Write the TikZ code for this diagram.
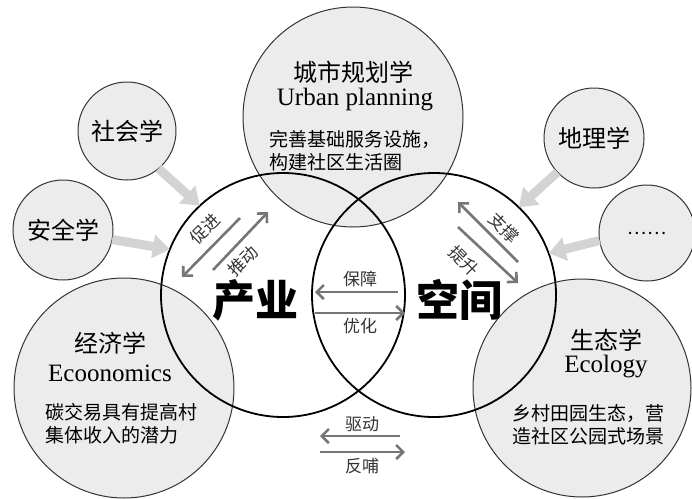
\documentclass[tikz,border=0pt]{standalone}
\usepackage{fontspec}
\setmainfont{Liberation Serif}
\newfontfamily\cjk{Noto Sans CJK SC}
\usetikzlibrary{shapes.geometric, arrows.meta}

\begin{document}
\begin{tikzpicture}[x=1pt, y=-1pt]
	\definecolor{discgray}{RGB}{236,236,236}
	\definecolor{flowgray}{RGB}{211,211,211}
	\definecolor{linkgray}{RGB}{118,118,118}
	\tikzstyle{disc} = [circle, draw=black!80, line width=1pt, fill=discgray, inner sep=0pt, outer sep=0pt]
	\tikzstyle{field} = [circle, draw=black, line width=1.8pt, inner sep=0pt, outer sep=0pt, minimum size=244pt]
	\tikzstyle{title} = [font=\cjk\fontsize{24}{28}\selectfont]
	\tikzstyle{latin} = [font=\fontsize{25}{29}\selectfont]
	\tikzstyle{body} = [font=\cjk\fontsize{19}{23}\selectfont, align=left, inner sep=0pt]
	\tikzstyle{bigname} = [font=\cjk\bfseries\fontsize{43}{48}\selectfont]
	\tikzstyle{tag} = [font=\cjk\fontsize{17}{20}\selectfont, text=black!80, inner sep=0pt]
	\tikzstyle{flow} = [draw=flowgray, line width=9pt, -{Triangle[length=17pt, width=23pt]}]
	\tikzstyle{link} = [draw=linkgray, line width=2.6pt, -{Straight Barb[length=7pt, width=14pt]}]

	\useasboundingbox (0,0) rectangle (692,498);

	% discipline circles
	\node (urban) [disc, minimum size=220pt] at (353,117) {};
	\node (econ) [disc, minimum size=220pt] at (124,388) {};
	\node (eco) [disc, minimum size=218pt] at (582,388) {};
	\node (social) [disc, title, minimum size=98pt] at (127,131) {社会学};
	\node (safety) [disc, title, minimum size=100pt] at (63,230) {安全学};
	\node (geo) [disc, title, minimum size=100pt] at (594,138) {地理学};
	\node (more) [disc, font=\cjk\fontsize{18}{20}\selectfont, minimum size=96pt] at (647,233) {……};

	\node (urbanname) [title] at (353,72) {城市规划学};
	\node (urbanen) [latin] at (355,100) {Urban planning};
	\node (urbantext) [body, anchor=west] at (269,151) {完善基础服务设施，\\构建社区生活圈};
	\node (econname) [title] at (110,343) {经济学};
	\node (econen) [latin] at (110,373) {Ecoonomics};
	\node (econtext) [body, anchor=west] at (45,424) {碳交易具有提高村\\集体收入的潜力};
	\node (econame) [title] at (606,340) {生态学};
	\node (ecoen) [latin] at (606,367) {Ecology};
	\node (ecotext) [body, anchor=west] at (512,425) {乡村田园生态，营\\造社区公园式场景};

	% industry and space
	\node (industry) [field] at (283,295) {};
	\node (space) [field] at (434,295) {};
	\node (industryname) [bigname] at (255,300) {产业};
	\node (spacename) [bigname] at (459,300) {空间};

	\draw [flow] (social.-50) -- (industry.133);
	\draw [flow] (safety.-11) -- (industry.158);
	\draw [flow] (geo.223) -- (space.46);
	\draw [flow] (more.189) -- (space.20);

	% two-way links
	\coordinate (promoteA) at (240,218);
	\coordinate (promoteB) at (182,277);
	\coordinate (driveA) at (213,270);
	\coordinate (driveB) at (268,212);
	\coordinate (supportA) at (518,262);
	\coordinate (supportB) at (458,202);
	\coordinate (raiseA) at (458,227);
	\coordinate (raiseB) at (518,283);
	\coordinate (secureA) at (398,292);
	\coordinate (secureB) at (315,292);
	\coordinate (optimA) at (315,313);
	\coordinate (optimB) at (405,313);
	\coordinate (pushA) at (400,436);
	\coordinate (pushB) at (320,436);
	\coordinate (feedA) at (320,452);
	\coordinate (feedB) at (405,452);

	\draw [link] (promoteA) -- (promoteB);
	\draw [link] (driveA) -- (driveB);
	\draw [link] (supportA) -- (supportB);
	\draw [link] (raiseA) -- (raiseB);
	\draw [link] (secureA) -- (secureB);
	\draw [link] (optimA) -- (optimB);
	\draw [link] (pushA) -- (pushB);
	\draw [link] (feedA) -- (feedB);

	\node (promote) [tag, rotate=45] at (205,229) {促进};
	\node (drive) [tag, rotate=45] at (243,261) {推动};
	\node (support) [tag, rotate=-45] at (504,228) {支撑};
	\node (raise) [tag, rotate=-45] at (464,261) {提升};
	\node (secure) [tag] at (360,279) {保障};
	\node (optim) [tag] at (360,326) {优化};
	\node (push) [tag] at (362,424) {驱动};
	\node (feed) [tag] at (362,466) {反哺};
\end{tikzpicture}
\end{document}
